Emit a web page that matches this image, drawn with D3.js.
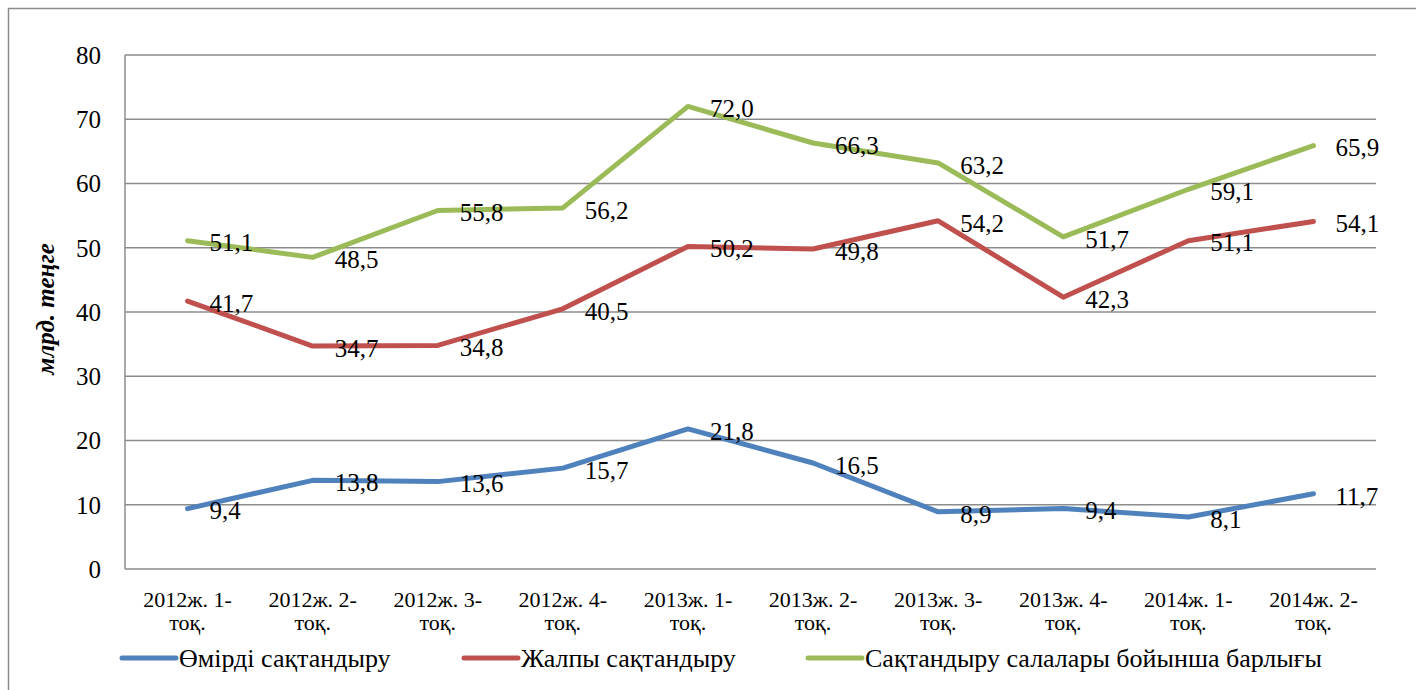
<!DOCTYPE html>
<html>
<head>
<meta charset="utf-8">
<script src="https://cdn.jsdelivr.net/npm/d3@7"></script>
<style>
  body { margin: 0; background: #fff; }
</style>
</head>
<body>
<div id="chart"></div>
<script>
// данные
const periods = ["2012ж. 1-", "2012ж. 2-", "2012ж. 3-", "2012ж. 4-", "2013ж. 1-",
                 "2013ж. 2-", "2013ж. 3-", "2013ж. 4-", "2014ж. 1-", "2014ж. 2-"];
const periodSuffix = "тоқ.";
const lifeIns = [9.4, 13.8, 13.6, 15.7, 21.8, 16.5, 8.9, 9.4, 8.1, 11.7];
const generalIns = [41.7, 34.7, 34.8, 40.5, 50.2, 49.8, 54.2, 42.3, 51.1, 54.1];
const totalIns = [51.1, 48.5, 55.8, 56.2, 72.0, 66.3, 63.2, 51.7, 59.1, 65.9];
const seriesNames = ["Өмірді сақтандыру", "Жалпы сақтандыру", "Сақтандыру салалары бойынша барлығы"];
const yTicks = [0, 10, 20, 30, 40, 50, 60, 70, 80];
const yTitle = "млрд. теңге";

const width = 1416, height = 690;
const margin = { left: 125, right: 40, top: 55, bottom: 121 };
const serif = "Liberation Serif";

const svg = d3.select("#chart").append("svg")
  .attr("width", width)
  .attr("height", height)
  .attr("font-family", serif);

// outer frame
svg.append("rect")
  .attr("x", 8.5).attr("y", 8.5)
  .attr("width", width + 20).attr("height", height + 20)
  .attr("fill", "none")
  .attr("stroke", "#8c8c8c")
  .attr("stroke-width", 1.5);

const x = d3.scaleBand()
  .domain(periods)
  .range([margin.left, width - margin.right]);

const y = d3.scaleLinear()
  .domain([0, 80])
  .range([height - margin.bottom, margin.top]);

// gridlines
svg.append("g")
  .selectAll("line")
  .data(yTicks)
  .join("line")
  .attr("x1", margin.left)
  .attr("x2", width - margin.right)
  .attr("y1", d => y(d))
  .attr("y2", d => y(d))
  .attr("stroke", "#8c8c8c")
  .attr("stroke-width", 1.5);

// y axis line
svg.append("line")
  .attr("x1", margin.left).attr("x2", margin.left)
  .attr("y1", y(80)).attr("y2", y(0))
  .attr("stroke", "#8c8c8c")
  .attr("stroke-width", 1.5);

// y tick labels
svg.append("g")
  .selectAll("text")
  .data(yTicks)
  .join("text")
  .attr("x", 101)
  .attr("y", d => y(d))
  .attr("dy", "0.35em")
  .attr("text-anchor", "end")
  .attr("font-size", "25px")
  .text(d => d);

// y title
svg.append("text")
  .attr("transform", `translate(54, ${y(40) - 3}) rotate(-90)`)
  .attr("text-anchor", "middle")
  .attr("font-size", "25px")
  .attr("font-weight", "bold")
  .attr("font-style", "italic")
  .text(yTitle);

// category labels
const cat = svg.append("g")
  .selectAll("g")
  .data(periods)
  .join("g")
  .attr("transform", d => `translate(${x(d) + x.bandwidth() / 2}, 0)`);

cat.append("text")
  .attr("y", 607)
  .attr("text-anchor", "middle")
  .attr("font-size", "22px")
  .text(d => d);

cat.append("text")
  .attr("y", 630)
  .attr("text-anchor", "middle")
  .attr("font-size", "22px")
  .text(periodSuffix);

const colors = ["#4f81bd", "#c0504d", "#9bbb59"];
const allSeries = [lifeIns, generalIns, totalIns];
const fmt = v => d3.format(".1f")(v).replace(".", ",");

const line = d3.line()
  .x((d, i) => x(periods[i]) + x.bandwidth() / 2)
  .y(d => y(d));

allSeries.forEach((vals, s) => {
  svg.append("path")
    .datum(vals)
    .attr("d", line)
    .attr("fill", "none")
    .attr("stroke", colors[s])
    .attr("stroke-width", 5)
    .attr("stroke-linecap", "round")
    .attr("stroke-linejoin", "round");
});

// data labels (right of point)
allSeries.forEach((vals, s) => {
  svg.append("g")
    .selectAll("text")
    .data(vals)
    .join("text")
    .attr("x", (d, i) => x(periods[i]) + x.bandwidth() / 2 + 22)
    .attr("y", d => y(d) + 2)
    .attr("dy", "0.35em")
    .attr("font-size", "25px")
    .text(d => fmt(d));
});

// legend
const legendX = [120, 462, 806];
const legend = svg.append("g")
  .selectAll("g")
  .data(seriesNames)
  .join("g")
  .attr("transform", (d, i) => `translate(${legendX[i]}, 658)`);

legend.append("line")
  .attr("x1", 2).attr("x2", 56)
  .attr("stroke", (d, i) => colors[i])
  .attr("stroke-width", 5)
  .attr("stroke-linecap", "round");

legend.append("text")
  .attr("x", 59)
  .attr("dy", "0.35em")
  .attr("font-size", "26px")
  .text(d => d);
</script>
</body>
</html>
